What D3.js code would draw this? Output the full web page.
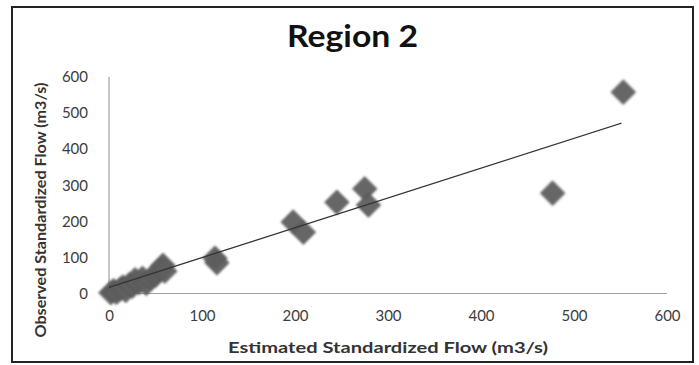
<!DOCTYPE html>
<html>
<head>
<meta charset="utf-8">
<script src="https://cdn.jsdelivr.net/npm/d3@7"></script>
<style>
  html, body { margin: 0; padding: 0; background: #fff; }
  svg { display: block; }
  text { font-family: Lato, "Open Sans", "Liberation Sans", sans-serif; }
</style>
</head>
<body>
<svg id="chart" width="699" height="365"></svg>
<script>
// ---- data ----
const title = "Region 2";
const xTitle = "Estimated Standardized Flow (m3/s)";
const yTitle = "Observed Standardized Flow (m3/s)";
const xTicks = [0, 100, 200, 300, 400, 500, 600];
const yTicks = [0, 100, 200, 300, 400, 500, 600];
const estimated = [2, 5, 8, 12, 15, 18, 22, 25, 28, 32, 36, 40, 45, 50, 52, 55, 58, 60,
                   114, 116, 198, 209, 245, 275, 279, 477, 553];
const observed  = [2, 8, 3, 12, 18, 8, 25, 20, 38, 30, 42, 28, 40, 50, 60, 68, 78, 62,
                   98, 85, 198, 170, 253, 290, 245, 278, 558];
const trendX = [0, 551];
const trendY = [17, 472];

// ---- layout ----
const svg = d3.select("#chart");
const x = d3.scaleLinear().domain([0, 600]).range([109, 667]);
const y = d3.scaleLinear().domain([0, 600]).range([293.5, 77]);

const defs = svg.append("defs");
defs.append("filter").attr("id", "soft")
  .append("feGaussianBlur").attr("stdDeviation", 1.2);

// frame
svg.append("rect").attr("x", 12).attr("y", 7).attr("width", 681).attr("height", 355)
  .attr("fill", "none").attr("stroke", "#222").attr("stroke-width", 2);

// title
svg.append("text").attr("x", 352.5).attr("y", 47).attr("text-anchor", "middle")
  .attr("font-size", 30).attr("font-weight", "bold").attr("fill", "#111")
  .attr("textLength", 131).attr("lengthAdjust", "spacingAndGlyphs")
  .text(title);

// axes lines
svg.append("line").attr("x1", x(0)).attr("x2", x(0)).attr("y1", y(600)).attr("y2", y(0))
  .attr("stroke", "#a0a0a0").attr("stroke-width", 1.2);
svg.append("line").attr("x1", x(0)).attr("x2", x(600)).attr("y1", y(0)).attr("y2", y(0))
  .attr("stroke", "#a0a0a0").attr("stroke-width", 1.2);

// axes via d3 (no tick lines, no domain)
const xAxis = svg.append("g").attr("transform", `translate(0,${y(0)})`)
  .call(d3.axisBottom(x).tickValues(xTicks).tickSize(0).tickPadding(17));
const yAxis = svg.append("g").attr("transform", `translate(${x(0)},0)`)
  .call(d3.axisLeft(y).tickValues(yTicks).tickSize(0).tickPadding(21));
[xAxis, yAxis].forEach(g => {
  g.select(".domain").remove();
  g.selectAll("text").attr("font-family", "Lato, 'Open Sans', sans-serif")
    .attr("font-size", 15).attr("fill", "#3c3c3c");
});

// axis titles
svg.append("text").attr("x", 388).attr("y", 353).attr("text-anchor", "middle")
  .attr("font-size", 15).attr("font-weight", "bold").attr("fill", "#333")
  .attr("textLength", 320).attr("lengthAdjust", "spacingAndGlyphs")
  .text(xTitle);
svg.append("text").attr("transform", "translate(46,210) rotate(-90)")
  .attr("text-anchor", "middle")
  .attr("font-size", 15).attr("font-weight", "bold").attr("fill", "#333")
  .attr("textLength", 255).attr("lengthAdjust", "spacingAndGlyphs")
  .text(yTitle);

// points
const diamond = d3.symbol().type(d3.symbolSquare).size(300);
const pts = estimated.map((e, i) => ({ x: e, y: observed[i] }));
svg.append("g").attr("filter", "url(#soft)")
  .selectAll("path").data(pts).join("path")
  .attr("d", diamond)
  .attr("transform", d => `translate(${x(d.x)},${y(d.y)}) rotate(45)`)
  .attr("fill", "#5e5e5e").attr("stroke", "#555").attr("stroke-width", 0.8)
  .attr("fill-opacity", 0.95);

// trendline
svg.append("line")
  .attr("x1", x(trendX[0])).attr("y1", y(trendY[0]))
  .attr("x2", x(trendX[1])).attr("y2", y(trendY[1]))
  .attr("stroke", "#333").attr("stroke-width", 1.3);
</script>
</body>
</html>
